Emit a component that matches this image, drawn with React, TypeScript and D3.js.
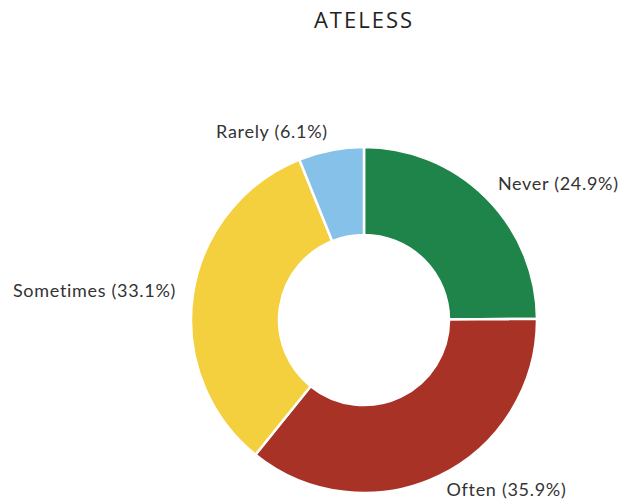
import React, { useEffect, useRef } from 'react';
import * as d3 from 'd3';

const categories = ['Never', 'Often', 'Sometimes', 'Rarely'];
const values = [24.9, 35.9, 33.1, 6.1];
const colors = ['#1e8449', '#a93226', '#f4d03f', '#85c1e9'];
const title = 'ATELESS';

function DonutChart() {
  const ref = useRef<any>(null);
  const dims = { width: 630, height: 503 };

  useEffect(() => {
    const svg = d3.select(ref.current).attr('width', dims.width).attr('height', dims.height);
    svg.selectAll('*').remove();

    svg
      .append('text')
      .attr('x', 364)
      .attr('y', 22)
      .attr('text-anchor', 'middle')
      .attr('dominant-baseline', 'middle')
      .attr('font-family', 'Open Sans, sans-serif')
      .attr('font-size', 22)
      .attr('letter-spacing', 2)
      .attr('font-weight', 500)
      .attr('fill', '#222')
      .text(title);

    const data = categories.map((c, i) => ({ name: c, value: values[i], color: colors[i] }));
    const pie = d3.pie<any>().value((d: any) => d.value).sort(null);
    const arcs = pie(data);

    const arc: any = d3.arc().innerRadius(85).outerRadius(173);
    const g = svg.append('g').attr('transform', 'translate(364,320)');

    g.selectAll('path')
      .data(arcs)
      .enter()
      .append('path')
      .attr('d', arc)
      .attr('fill', (d: any) => d.data.color)
      .attr('stroke', '#fff')
      .attr('stroke-width', 2.5);

    const lr = 190;
    g.selectAll('text.label')
      .data(arcs)
      .enter()
      .append('text')
      .attr('class', 'label')
      .attr('x', (d: any) => lr * Math.sin((d.startAngle + d.endAngle) / 2))
      .attr('y', (d: any) => -lr * Math.cos((d.startAngle + d.endAngle) / 2))
      .attr('text-anchor', (d: any) => ((d.startAngle + d.endAngle) / 2 < Math.PI ? 'start' : 'end'))
      .attr('dominant-baseline', 'middle')
      .attr('font-family', 'Lato, sans-serif')
      .attr('font-size', 18)
      .attr('letter-spacing', 0.7)
      .attr('fill', '#333')
      .text((d: any) => `${d.data.name} (${d.data.value}%)`);
  });

  return (
    <div id="chartArea">
      <svg ref={ref} style={{ display: 'block', position: 'absolute', left: 0, top: 0 }}></svg>
    </div>
  );
}

export default function App() {
  return <DonutChart />;
}
